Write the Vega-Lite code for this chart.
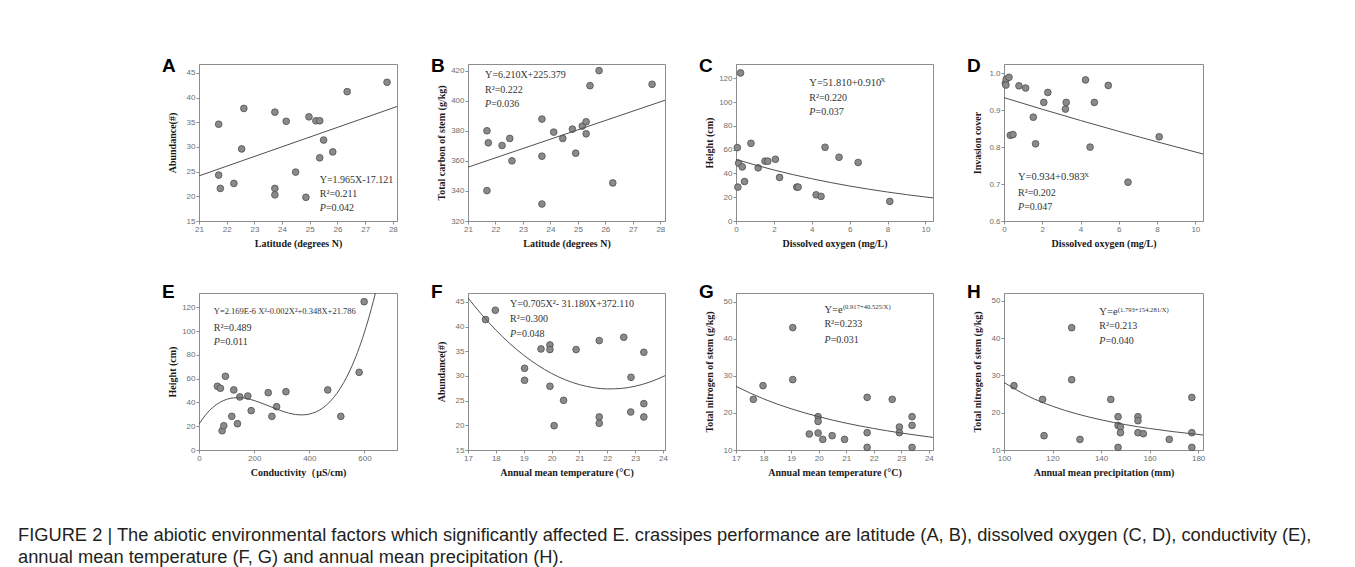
{
  "$schema": "https://vega.github.io/schema/vega-lite/v6.json",
  "background": "white",
  "padding": {"left": 18, "top": 56, "right": 5, "bottom": 2},
  "title": {
    "text": ["FIGURE 2 | The abiotic environmental factors which significantly affected E. crassipes performance are latitude (A, B), dissolved oxygen (C, D), conductivity (E),", "annual mean temperature (F, G) and annual mean precipitation (H)."],
    "orient": "bottom", "anchor": "start", "frame": "group", "dx": -181, "dy": 0, "offset": 49,
    "font": "Liberation Sans", "fontSize": 18.3, "fontWeight": "normal", "color": "#231f20", "lineHeight": 22, "baseline": "top"
  },
  "config": {
    "view": {"stroke": "#8c8c8c", "strokeWidth": 1},
    "axis": {"grid": false, "tickCount": 20, "domainColor": "#8c8c8c", "domainWidth": 1, "tickColor": "#8c8c8c", "tickSize": 3, "tickWidth": 1, "labelFont": "Liberation Sans", "labelFontSize": 8, "labelColor": "#6e6e6e", "labelPadding": 1, "labelFlush": false, "labelOverlap": false, "titleFont": "Liberation Serif", "titleFontSize": 10, "titleFontWeight": "bold", "titleColor": "#1a1a1a"},
    "axisX": {"titlePadding": 5},
    "axisY": {"minExtent": 20, "maxExtent": 20, "titlePadding": 1.5},
    "title": {"font": "Liberation Sans", "fontSize": 19, "fontWeight": "bold", "color": "#000000", "anchor": "start", "frame": "group", "offset": 0, "dx": -37, "baseline": "alphabetic"},
    "text": {"font": "Liberation Serif", "fontSize": 10, "color": "#333333", "align": "left", "baseline": "middle"}
  },
  "datasets": {
    "A_pts": [{"x":21.71,"y":34.6},{"x":21.71,"y":24.3},{"x":21.77,"y":21.6},{"x":22.26,"y":22.6},{"x":22.54,"y":29.6},{"x":22.62,"y":37.8},{"x":23.74,"y":37.05},{"x":23.74,"y":21.6},{"x":23.74,"y":20.3},{"x":24.15,"y":35.2},{"x":24.49,"y":24.9},{"x":24.86,"y":19.8},{"x":24.97,"y":36.1},{"x":25.22,"y":35.3},{"x":25.36,"y":35.3},{"x":25.36,"y":27.8},{"x":25.5,"y":31.4},{"x":25.83,"y":29.0},{"x":26.35,"y":41.2},{"x":27.79,"y":43.1}],
    "A_fit": [{"x":21,"y":24.14},{"x":28.15,"y":38.19}],
    "B_pts": [{"x":21.69,"y":380},{"x":21.74,"y":372},{"x":21.69,"y":340.2},{"x":22.24,"y":370.2},{"x":22.52,"y":374.9},{"x":22.6,"y":360},{"x":23.69,"y":387.8},{"x":23.69,"y":363.1},{"x":23.69,"y":331.3},{"x":24.12,"y":379.1},{"x":24.45,"y":374.9},{"x":24.8,"y":381.1},{"x":24.92,"y":365.1},{"x":25.16,"y":383.1},{"x":25.3,"y":386},{"x":25.3,"y":378},{"x":25.44,"y":410},{"x":25.77,"y":420},{"x":26.27,"y":345.3},{"x":27.7,"y":410.9}],
    "B_fit": [{"x":21,"y":355.79},{"x":28.17,"y":400.31}],
    "C_pts": [{"x":0.24,"y":124.5},{"x":0.07,"y":61.7},{"x":0.14,"y":48.6},{"x":0.33,"y":45.5},{"x":0.45,"y":33.2},{"x":0.1,"y":28.5},{"x":0.79,"y":65.3},{"x":1.17,"y":44.7},{"x":1.53,"y":50.3},{"x":1.68,"y":50.3},{"x":2.08,"y":51.9},{"x":2.3,"y":36.6},{"x":3.21,"y":28.5},{"x":3.28,"y":28.5},{"x":4.23,"y":22},{"x":4.49,"y":20.7},{"x":4.7,"y":62},{"x":5.44,"y":53.6},{"x":6.45,"y":49.2},{"x":8.12,"y":16.5}],
    "C_fit": [{"x":0,"y":51.81},{"x":1,"y":47.15},{"x":2,"y":42.9},{"x":3,"y":39.04},{"x":4,"y":35.53},{"x":5,"y":32.33},{"x":6,"y":29.42},{"x":7,"y":26.77},{"x":8,"y":24.36},{"x":9,"y":22.17},{"x":10,"y":20.18},{"x":10.4,"y":19.43}],
    "D_pts": [{"x":0.07,"y":0.973},{"x":0.12,"y":0.984},{"x":0.26,"y":0.989},{"x":0.1,"y":0.968},{"x":0.33,"y":0.832},{"x":0.47,"y":0.834},{"x":0.78,"y":0.966},{"x":1.13,"y":0.96},{"x":1.53,"y":0.881},{"x":1.65,"y":0.809},{"x":2.08,"y":0.921},{"x":2.29,"y":0.948},{"x":3.21,"y":0.903},{"x":3.25,"y":0.921},{"x":4.26,"y":0.982},{"x":4.5,"y":0.8},{"x":4.72,"y":0.921},{"x":5.45,"y":0.967},{"x":6.48,"y":0.705},{"x":8.11,"y":0.828}],
    "D_fit": [{"x":0,"y":0.934},{"x":2,"y":0.9025},{"x":4,"y":0.8721},{"x":6,"y":0.8427},{"x":8,"y":0.8143},{"x":10.4,"y":0.7814}],
    "E_pts": [{"x":66.8,"y":53.6},{"x":77.7,"y":51.9},{"x":95.9,"y":62},{"x":83.8,"y":16.2},{"x":89.8,"y":20.4},{"x":118.9,"y":28.3},{"x":126.2,"y":50.5},{"x":139.5,"y":22.1},{"x":148,"y":44.6},{"x":177,"y":45.4},{"x":189.2,"y":33.1},{"x":251,"y":48.2},{"x":264.4,"y":28.3},{"x":281.4,"y":36.4},{"x":315.3,"y":49},{"x":466.9,"y":50.5},{"x":514.2,"y":28.3},{"x":580.7,"y":65.3},{"x":598.9,"y":124.7}],
    "E_fit": [{"x":0,"y":21.8},{"x":25,"y":29.79},{"x":50,"y":35.77},{"x":75,"y":39.95},{"x":100,"y":42.56},{"x":125,"y":43.81},{"x":150,"y":43.92},{"x":175,"y":43.11},{"x":200,"y":41.6},{"x":250,"y":37.32},{"x":300,"y":32.83},{"x":350,"y":29.87},{"x":375,"y":29.52},{"x":400,"y":30.19},{"x":450,"y":35.52},{"x":500,"y":47.62},{"x":550,"y":68.21},{"x":575,"y":82.21},{"x":600,"y":99.02},{"x":625,"y":118.8},{"x":640,"y":132.21}],
    "F_pts": [{"x":17.63,"y":41.42},{"x":17.98,"y":43.31},{"x":19.03,"y":31.55},{"x":19.03,"y":29.12},{"x":19.62,"y":35.47},{"x":19.94,"y":36.28},{"x":19.94,"y":35.34},{"x":19.94,"y":27.91},{"x":20.09,"y":19.93},{"x":20.43,"y":25.07},{"x":20.88,"y":35.34},{"x":21.71,"y":37.16},{"x":21.71,"y":21.69},{"x":21.71,"y":20.41},{"x":22.59,"y":37.84},{"x":22.84,"y":22.7},{"x":22.85,"y":29.73},{"x":23.31,"y":34.8},{"x":23.31,"y":24.39},{"x":23.31,"y":21.69}],
    "F_fit": [{"x":17,"y":45.8},{"x":17.5,"y":42.37},{"x":18,"y":39.29},{"x":18.5,"y":36.57},{"x":19,"y":34.2},{"x":19.5,"y":32.18},{"x":20,"y":30.51},{"x":20.5,"y":29.2},{"x":21,"y":28.24},{"x":21.5,"y":27.63},{"x":22,"y":27.37},{"x":22.5,"y":27.47},{"x":23,"y":27.92},{"x":23.5,"y":28.72},{"x":24,"y":29.87},{"x":24.07,"y":30.06}],
    "G_pts": [{"x":17.63,"y":23.65},{"x":17.98,"y":27.34},{"x":19.06,"y":42.98},{"x":19.06,"y":28.96},{"x":19.66,"y":14.31},{"x":19.98,"y":18.98},{"x":19.98,"y":17.71},{"x":19.98,"y":14.58},{"x":20.15,"y":12.86},{"x":20.49,"y":13.86},{"x":20.94,"y":12.86},{"x":21.76,"y":24.19},{"x":21.76,"y":14.67},{"x":21.76,"y":10.7},{"x":22.67,"y":23.65},{"x":22.93,"y":16.2},{"x":22.93,"y":14.67},{"x":23.39,"y":18.98},{"x":23.39,"y":16.63},{"x":23.39,"y":10.7}],
    "G_fit": [{"x":17,"y":27.14},{"x":18,"y":23.77},{"x":19,"y":21.11},{"x":20,"y":18.98},{"x":21,"y":17.23},{"x":22,"y":15.79},{"x":23,"y":14.57},{"x":24,"y":13.54},{"x":24.15,"y":13.4}],
    "H_pts": [{"x":104.1,"y":27.22},{"x":115.9,"y":23.55},{"x":116.5,"y":13.83},{"x":127.9,"y":42.76},{"x":127.9,"y":28.83},{"x":131.3,"y":12.84},{"x":144,"y":23.55},{"x":147,"y":18.92},{"x":147,"y":16.59},{"x":147,"y":10.7},{"x":148,"y":16.16},{"x":148,"y":14.63},{"x":155.2,"y":18.92},{"x":155.2,"y":17.85},{"x":155.2,"y":14.63},{"x":157.4,"y":14.37},{"x":168.1,"y":12.84},{"x":177.4,"y":24.09},{"x":177.4,"y":14.63},{"x":177.4,"y":10.7}],
    "H_fit": [{"x":100,"y":28.1},{"x":110,"y":24.42},{"x":120,"y":21.72},{"x":130,"y":19.68},{"x":140,"y":18.08},{"x":150,"y":16.8},{"x":160,"y":15.76},{"x":170,"y":14.89},{"x":182,"y":14.02}]
  },
  "concat": [
    {
      "width": 198, "height": 157, "title": {"text": "A", "dy": 16},
      "layer": [
        {"data": {"name": "A_pts"}, "mark": {"type": "point", "filled": true, "fill": "#8a8a8a", "stroke": "#4f4f4f", "strokeWidth": 0.8, "size": 45, "opacity": 1},
         "encoding": {"x": {"field": "x", "type": "quantitative", "scale": {"domain": [21, 28.15], "nice": false, "zero": false}, "axis": {"values": [21,22,23,24,25,26,27,28], "format": "d", "tickCount": 20, "labelOverlap": false, "title": "Latitude (degrees N)"}},
                      "y": {"field": "y", "type": "quantitative", "scale": {"domain": [15, 46.8], "nice": false, "zero": false}, "axis": {"values": [15,20,25,30,35,40,45], "format": "d", "tickCount": 20, "labelOverlap": false, "title": "Abundance(#)"}}}},
        {"data": {"name": "A_fit"}, "mark": {"type": "line", "color": "#505050", "strokeWidth": 1, "clip": true}, "encoding": {"x": {"field": "x", "type": "quantitative"}, "y": {"field": "y", "type": "quantitative"}}},
        {"data": {"values": [{}]}, "mark": {"type": "text", "text": "Y=1.965X-17.121"}, "encoding": {"x": {"datum": 25.36}, "y": {"datum": 23.3}}},
        {"data": {"values": [{}]}, "mark": {"type": "text", "text": "R²=0.211"}, "encoding": {"x": {"datum": 25.36}, "y": {"datum": 20.4}}},
        {"data": {"values": [{}]}, "mark": {"type": "text", "text": "P", "fontStyle": "italic"}, "encoding": {"x": {"datum": 25.36}, "y": {"datum": 17.56}}},
        {"data": {"values": [{}]}, "mark": {"type": "text", "text": "=0.042", "dx": 6.2}, "encoding": {"x": {"datum": 25.36}, "y": {"datum": 17.56}}}
      ]
    },
    {
      "width": 197, "height": 157, "title": {"text": "B", "dy": 16},
      "layer": [
        {"data": {"name": "B_pts"}, "mark": {"type": "point", "filled": true, "fill": "#8a8a8a", "stroke": "#4f4f4f", "strokeWidth": 0.8, "size": 45, "opacity": 1},
         "encoding": {"x": {"field": "x", "type": "quantitative", "scale": {"domain": [21, 28.17], "nice": false, "zero": false}, "axis": {"values": [21,22,23,24,25,26,27,28], "format": "d", "tickCount": 20, "labelOverlap": false, "title": "Latitude (degrees N)"}},
                      "y": {"field": "y", "type": "quantitative", "scale": {"domain": [320, 424.4], "nice": false, "zero": false}, "axis": {"values": [320,340,360,380,400,420], "format": "d", "tickCount": 20, "labelOverlap": false, "title": "Total carbon of stem (g/kg)"}}}},
        {"data": {"name": "B_fit"}, "mark": {"type": "line", "color": "#505050", "strokeWidth": 1, "clip": true}, "encoding": {"x": {"field": "x", "type": "quantitative"}, "y": {"field": "y", "type": "quantitative"}}},
        {"data": {"values": [{}]}, "mark": {"type": "text", "text": "Y=6.210X+225.379"}, "encoding": {"x": {"datum": 21.62}, "y": {"datum": 416.9}}},
        {"data": {"values": [{}]}, "mark": {"type": "text", "text": "R²=0.222"}, "encoding": {"x": {"datum": 21.62}, "y": {"datum": 407.3}}},
        {"data": {"values": [{}]}, "mark": {"type": "text", "text": "P", "fontStyle": "italic"}, "encoding": {"x": {"datum": 21.62}, "y": {"datum": 398}}},
        {"data": {"values": [{}]}, "mark": {"type": "text", "text": "=0.036", "dx": 6.2}, "encoding": {"x": {"datum": 21.62}, "y": {"datum": 398}}}
      ]
    },
    {
      "width": 197, "height": 157, "title": {"text": "C", "dy": 16},
      "layer": [
        {"data": {"name": "C_pts"}, "mark": {"type": "point", "filled": true, "fill": "#8a8a8a", "stroke": "#4f4f4f", "strokeWidth": 0.8, "size": 45, "opacity": 1},
         "encoding": {"x": {"field": "x", "type": "quantitative", "scale": {"domain": [0, 10.4], "nice": false, "zero": false}, "axis": {"values": [0,2,4,6,8,10], "format": "d", "tickCount": 20, "labelOverlap": false, "title": "Dissolved oxygen (mg/L)"}},
                      "y": {"field": "y", "type": "quantitative", "scale": {"domain": [0, 132], "nice": false, "zero": false}, "axis": {"values": [0,20,40,60,80,100,120], "format": "d", "tickCount": 20, "labelOverlap": false, "title": "Height (cm)"}}}},
        {"data": {"name": "C_fit"}, "mark": {"type": "line", "color": "#505050", "strokeWidth": 1, "clip": true, "interpolate": "monotone"}, "encoding": {"x": {"field": "x", "type": "quantitative"}, "y": {"field": "y", "type": "quantitative"}}},
        {"data": {"values": [{}]}, "mark": {"type": "text", "text": "Y=51.810+0.910", "fontSize": 10.5}, "encoding": {"x": {"datum": 3.87}, "y": {"datum": 115.8}}},
        {"data": {"values": [{}]}, "mark": {"type": "text", "text": "X", "fontSize": 7}, "encoding": {"x": {"datum": 7.62}, "y": {"datum": 118.5}}},
        {"data": {"values": [{}]}, "mark": {"type": "text", "text": "R²=0.220"}, "encoding": {"x": {"datum": 3.87}, "y": {"datum": 103.3}}},
        {"data": {"values": [{}]}, "mark": {"type": "text", "text": "P", "fontStyle": "italic"}, "encoding": {"x": {"datum": 3.87}, "y": {"datum": 91.3}}},
        {"data": {"values": [{}]}, "mark": {"type": "text", "text": "=0.037", "dx": 6.2}, "encoding": {"x": {"datum": 3.87}, "y": {"datum": 91.3}}}
      ]
    },
    {
      "width": 199, "height": 157, "title": {"text": "D", "dy": 16},
      "layer": [
        {"data": {"name": "D_pts"}, "mark": {"type": "point", "filled": true, "fill": "#8a8a8a", "stroke": "#4f4f4f", "strokeWidth": 0.8, "size": 45, "opacity": 1},
         "encoding": {"x": {"field": "x", "type": "quantitative", "scale": {"domain": [0, 10.4], "nice": false, "zero": false}, "axis": {"values": [0,2,4,6,8,10], "format": "d", "tickCount": 20, "labelOverlap": false, "title": "Dissolved oxygen (mg/L)"}},
                      "y": {"field": "y", "type": "quantitative", "scale": {"domain": [0.6, 1.025], "nice": false, "zero": false}, "axis": {"values": [0.6,0.7,0.8,0.9,1.0], "format": ".1f", "tickCount": 20, "labelOverlap": false, "title": "Invasion cover"}}}},
        {"data": {"name": "D_fit"}, "mark": {"type": "line", "color": "#505050", "strokeWidth": 1, "clip": true, "interpolate": "monotone"}, "encoding": {"x": {"field": "x", "type": "quantitative"}, "y": {"field": "y", "type": "quantitative"}}},
        {"data": {"values": [{}]}, "mark": {"type": "text", "text": "Y=0.934+0.983", "fontSize": 10.5}, "encoding": {"x": {"datum": 0.73}, "y": {"datum": 0.718}}},
        {"data": {"values": [{}]}, "mark": {"type": "text", "text": "X", "fontSize": 7}, "encoding": {"x": {"datum": 4.18}, "y": {"datum": 0.725}}},
        {"data": {"values": [{}]}, "mark": {"type": "text", "text": "R²=0.202"}, "encoding": {"x": {"datum": 0.73}, "y": {"datum": 0.676}}},
        {"data": {"values": [{}]}, "mark": {"type": "text", "text": "P", "fontStyle": "italic"}, "encoding": {"x": {"datum": 0.73}, "y": {"datum": 0.639}}},
        {"data": {"values": [{}]}, "mark": {"type": "text", "text": "=0.047", "dx": 6.2}, "encoding": {"x": {"datum": 0.73}, "y": {"datum": 0.639}}}
      ]
    },
    {
      "width": 198, "height": 157, "title": {"text": "E", "dy": 13},
      "layer": [
        {"data": {"name": "E_pts"}, "mark": {"type": "point", "filled": true, "fill": "#8a8a8a", "stroke": "#4f4f4f", "strokeWidth": 0.8, "size": 45, "opacity": 1},
         "encoding": {"x": {"field": "x", "type": "quantitative", "scale": {"domain": [0, 718], "nice": false, "zero": false}, "axis": {"values": [0,200,400,600], "format": "d", "tickCount": 20, "labelOverlap": false, "title": "Conductivity（μS/cm)"}},
                      "y": {"field": "y", "type": "quantitative", "scale": {"domain": [0, 132], "nice": false, "zero": false}, "axis": {"values": [0,20,40,60,80,100,120], "format": "d", "tickCount": 20, "labelOverlap": false, "title": "Height (cm)"}}}},
        {"data": {"name": "E_fit"}, "mark": {"type": "line", "color": "#505050", "strokeWidth": 1, "clip": true, "interpolate": "monotone"}, "encoding": {"x": {"field": "x", "type": "quantitative"}, "y": {"field": "y", "type": "quantitative"}}},
        {"data": {"values": [{}]}, "mark": {"type": "text", "text": "Y=2.169E-6 X³-0.002X²+0.348X+21.786", "fontSize": 8.5}, "encoding": {"x": {"datum": 53.5}, "y": {"datum": 116.6}}},
        {"data": {"values": [{}]}, "mark": {"type": "text", "text": "R²=0.489"}, "encoding": {"x": {"datum": 53.5}, "y": {"datum": 102.9}}},
        {"data": {"values": [{}]}, "mark": {"type": "text", "text": "P", "fontStyle": "italic"}, "encoding": {"x": {"datum": 53.5}, "y": {"datum": 90.6}}},
        {"data": {"values": [{}]}, "mark": {"type": "text", "text": "=0.011", "dx": 6.2}, "encoding": {"x": {"datum": 53.5}, "y": {"datum": 90.6}}}
      ]
    },
    {
      "width": 197, "height": 157, "title": {"text": "F", "dy": 13},
      "layer": [
        {"data": {"name": "F_pts"}, "mark": {"type": "point", "filled": true, "fill": "#8a8a8a", "stroke": "#4f4f4f", "strokeWidth": 0.8, "size": 45, "opacity": 1},
         "encoding": {"x": {"field": "x", "type": "quantitative", "scale": {"domain": [17, 24.07], "nice": false, "zero": false}, "axis": {"values": [17,18,19,20,21,22,23,24], "format": "d", "tickCount": 20, "labelOverlap": false, "title": "Annual mean temperature (°C)"}},
                      "y": {"field": "y", "type": "quantitative", "scale": {"domain": [15, 46.8], "nice": false, "zero": false}, "axis": {"values": [15,20,25,30,35,40,45], "format": "d", "tickCount": 20, "labelOverlap": false, "title": "Abundance(#)"}}}},
        {"data": {"name": "F_fit"}, "mark": {"type": "line", "color": "#505050", "strokeWidth": 1, "clip": true, "interpolate": "monotone"}, "encoding": {"x": {"field": "x", "type": "quantitative"}, "y": {"field": "y", "type": "quantitative"}}},
        {"data": {"values": [{}]}, "mark": {"type": "text", "text": "Y=0.705X²- 31.180X+372.110"}, "encoding": {"x": {"datum": 18.51}, "y": {"datum": 44.66}}},
        {"data": {"values": [{}]}, "mark": {"type": "text", "text": "R²=0.300"}, "encoding": {"x": {"datum": 18.51}, "y": {"datum": 41.62}}},
        {"data": {"values": [{}]}, "mark": {"type": "text", "text": "P", "fontStyle": "italic"}, "encoding": {"x": {"datum": 18.51}, "y": {"datum": 38.58}}},
        {"data": {"values": [{}]}, "mark": {"type": "text", "text": "=0.048", "dx": 6.2}, "encoding": {"x": {"datum": 18.51}, "y": {"datum": 38.58}}}
      ]
    },
    {
      "width": 197, "height": 157, "title": {"text": "G", "dy": 13},
      "layer": [
        {"data": {"name": "G_pts"}, "mark": {"type": "point", "filled": true, "fill": "#8a8a8a", "stroke": "#4f4f4f", "strokeWidth": 0.8, "size": 45, "opacity": 1},
         "encoding": {"x": {"field": "x", "type": "quantitative", "scale": {"domain": [17, 24.15], "nice": false, "zero": false}, "axis": {"values": [17,18,19,20,21,22,23,24], "format": "d", "tickCount": 20, "labelOverlap": false, "title": "Annual mean temperature (°C)"}},
                      "y": {"field": "y", "type": "quantitative", "scale": {"domain": [10, 52.3], "nice": false, "zero": false}, "axis": {"values": [10,20,30,40,50], "format": "d", "tickCount": 20, "labelOverlap": false, "title": "Total nitrogen of stem (g/kg)"}}}},
        {"data": {"name": "G_fit"}, "mark": {"type": "line", "color": "#505050", "strokeWidth": 1, "clip": true, "interpolate": "monotone"}, "encoding": {"x": {"field": "x", "type": "quantitative"}, "y": {"field": "y", "type": "quantitative"}}},
        {"data": {"values": [{}]}, "mark": {"type": "text", "text": "Y=e", "fontSize": 10.5}, "encoding": {"x": {"datum": 20.21}, "y": {"datum": 47.84}}},
        {"data": {"values": [{}]}, "mark": {"type": "text", "text": "(0.917+40.525/X)", "fontSize": 6.6}, "encoding": {"x": {"datum": 20.88}, "y": {"datum": 48.4}}},
        {"data": {"values": [{}]}, "mark": {"type": "text", "text": "R²=0.233"}, "encoding": {"x": {"datum": 20.21}, "y": {"datum": 43.87}}},
        {"data": {"values": [{}]}, "mark": {"type": "text", "text": "P", "fontStyle": "italic"}, "encoding": {"x": {"datum": 20.21}, "y": {"datum": 39.75}}},
        {"data": {"values": [{}]}, "mark": {"type": "text", "text": "=0.031", "dx": 6.2}, "encoding": {"x": {"datum": 20.21}, "y": {"datum": 39.75}}}
      ]
    },
    {
      "width": 199, "height": 157, "title": {"text": "H", "dy": 13},
      "layer": [
        {"data": {"name": "H_pts"}, "mark": {"type": "point", "filled": true, "fill": "#8a8a8a", "stroke": "#4f4f4f", "strokeWidth": 0.8, "size": 45, "opacity": 1},
         "encoding": {"x": {"field": "x", "type": "quantitative", "scale": {"domain": [100, 182], "nice": false, "zero": false}, "axis": {"values": [100,120,140,160,180], "format": "d", "tickCount": 20, "labelOverlap": false, "title": "Annual mean precipitation (mm)"}},
                      "y": {"field": "y", "type": "quantitative", "scale": {"domain": [10, 52.06], "nice": false, "zero": false}, "axis": {"values": [10,20,30,40,50], "format": "d", "tickCount": 20, "labelOverlap": false, "title": "Total nitrogen of stem (g/kg)"}}}},
        {"data": {"name": "H_fit"}, "mark": {"type": "line", "color": "#505050", "strokeWidth": 1, "clip": true, "interpolate": "monotone"}, "encoding": {"x": {"field": "x", "type": "quantitative"}, "y": {"field": "y", "type": "quantitative"}}},
        {"data": {"values": [{}]}, "mark": {"type": "text", "text": "Y=e", "fontSize": 10.5}, "encoding": {"x": {"datum": 139.3}, "y": {"datum": 46.97}}},
        {"data": {"values": [{}]}, "mark": {"type": "text", "text": "(1.793+154.281/X)", "fontSize": 6.6}, "encoding": {"x": {"datum": 146.9}, "y": {"datum": 47.5}}},
        {"data": {"values": [{}]}, "mark": {"type": "text", "text": "R²=0.213"}, "encoding": {"x": {"datum": 139.3}, "y": {"datum": 43.11}}},
        {"data": {"values": [{}]}, "mark": {"type": "text", "text": "P", "fontStyle": "italic"}, "encoding": {"x": {"datum": 139.3}, "y": {"datum": 39.28}}},
        {"data": {"values": [{}]}, "mark": {"type": "text", "text": "=0.040", "dx": 6.2}, "encoding": {"x": {"datum": 139.3}, "y": {"datum": 39.28}}}
      ]
    }
  ],
  "columns": 4,
  "spacing": {"row": 72, "column": 71},
  "bounds": "flush"
}
